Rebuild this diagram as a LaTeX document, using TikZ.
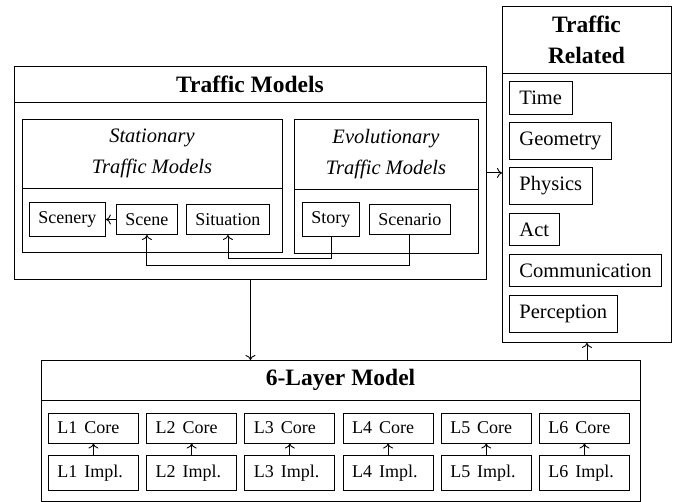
\documentclass[tikz,border=0pt]{standalone}
\usepackage{fontspec}
\setmainfont{Liberation Serif}
\usetikzlibrary{arrows.meta,calc}
\newcommand\fsitem{\fontsize{18}{22}\selectfont}
\newcommand\fsbig{\fontsize{20.5}{31}\selectfont}
\newcommand\fstitle{\fontsize{23.5}{31}\selectfont\bfseries}
\begin{document}
\begin{tikzpicture}[x=1pt,y=-1pt,line width=0.9pt,
  frame/.style={draw,inner sep=0pt,anchor=north west},
  item/.style={draw,inner sep=9pt,anchor=west,font=\fsitem},
  tritem/.style={draw,inner xsep=10pt,inner ysep=9.5pt,anchor=west,font=\fsbig},
  layerbox/.style={draw,inner sep=9pt,anchor=west,text width=72pt,align=left,font=\fsitem},
  title/.style={font=\fstitle,align=center},
  subtitle/.style={font=\fsbig\itshape,align=center},
  arr/.style={-{To[length=5pt,width=10pt]}}]
\useasboundingbox (0,0) rectangle (686,502);

% Traffic Models
\node[frame,minimum width=472pt,minimum height=213pt] (tm) at (14,66) {};
\coordinate (tmsep) at (14,102);
\draw (tmsep) -- (tmsep -| tm.east);
\node[title] (tmtitle) at (250,84) {Traffic Models};

\node[frame,minimum width=260pt,minimum height=133pt] (stat) at (22,119) {};
\coordinate (statsep) at (22,188);
\draw (statsep) -- (statsep -| stat.east);
\node[subtitle] (stattitle) at (152,153.5) {Stationary\\Traffic Models};

\node[frame,minimum width=184pt,minimum height=134pt] (evo) at (294,119) {};
\coordinate (evosep) at (294,189);
\draw (evosep) -- (evosep -| evo.east);
\node[subtitle] (evotitle) at (386,154) {Evolutionary\\Traffic Models};

\node[item] (scenery) at (29,219.5) {Scenery};
\node[item] (scene) at (116,219.5) {Scene};
\node[item] (situation) at (186,219.5) {Situation};
\node[item] (story) at (302,219.5) {Story};
\node[item] (scenario) at (369,219.5) {Scenario};

% Traffic Related
\node[frame,minimum width=169pt,minimum height=336pt] (tr) at (502,6) {};
\coordinate (trsep) at (502,73);
\draw (trsep) -- (trsep -| tr.east);
\node[title] (trtitle) at (586.5,39.5) {Traffic\\Related};
\node[tritem] (time) at (509,98) {Time};
\node[tritem] (geometry) at (509,141) {Geometry};
\node[tritem] (physics) at (509,186) {Physics};
\node[tritem] (act) at (509,229.5) {Act};
\node[tritem] (comm) at (509,270.5) {Communication};
\node[tritem] (perc) at (509,313.5) {Perception};

% 6-Layer Model
\node[frame,minimum width=599pt,minimum height=141pt] (lm) at (41,360) {};
\coordinate (lmsep) at (41,400);
\draw (lmsep) -- (lmsep -| lm.east);
\node[title] (lmtitle) at (340.5,380) {6-Layer Model};
\foreach \i in {1,...,6}{
  \pgfmathsetmacro\xx{48+98.2*(\i-1)}
  \node[layerbox] (core\i) at (\xx,428) {L\i\hspace{7pt}Core};
  \node[layerbox] (impl\i) at (\xx,473) {L\i\hspace{7pt}Impl.};
  \draw[arr] (impl\i.north) -- (core\i.south);
}

% connectors
\coordinate (bus1) at (0,258);
\coordinate (bus2) at (0,265);
\draw[arr] (scene.west) -- (scenery.east);
\draw[arr] (story.south) -- (story.south |- bus1) -| (situation.south);
\draw[arr] (scenario.south) -- (scenario.south |- bus2) -| (scene.south);
\draw[arr] (tm.east) -- (tm.east -| tr.west);
\draw[arr] (tm.south) -- (tm.south |- lm.north);
\draw[arr] (lm.north -| tr.south) -- (tr.south);
\end{tikzpicture}
\end{document}
